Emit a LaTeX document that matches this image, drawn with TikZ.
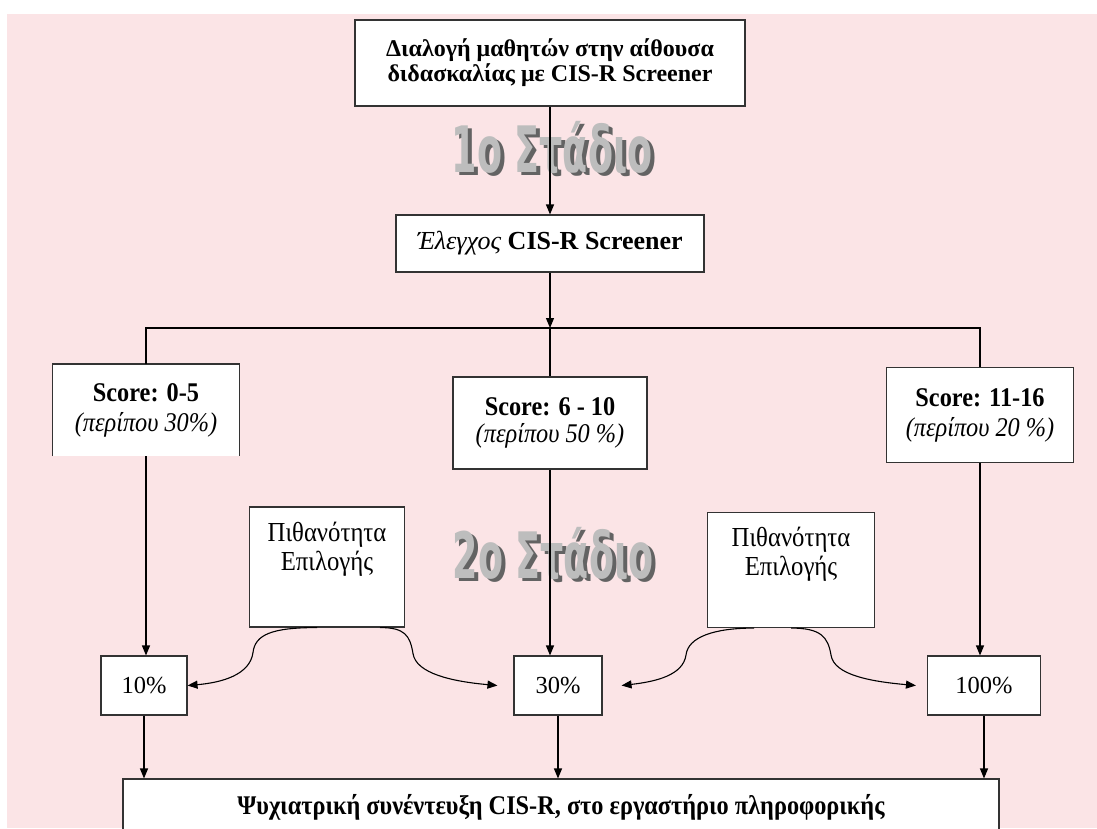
\documentclass[tikz,border=0pt]{standalone}
\usepackage{fontspec}
\setmainfont{Liberation Serif}
\newfontfamily\condfont{Liberation Serif}[FakeStretch=0.9]
\newfontfamily\artfont{DejaVu Sans}
\definecolor{bgpink}{HTML}{FBE4E6}
\definecolor{boxline}{HTML}{333333}
\definecolor{artgray}{HTML}{BDBDBD}
\definecolor{artshadow}{HTML}{636363}
\usetikzlibrary{arrows.meta,positioning}
% word art title: shadow and face in one box
\newcommand{\stagetitle}[1]{%
  \rlap{\kern4pt\raisebox{-3pt}{\textcolor{artshadow}{\scalebox{0.57}[1]{#1}}}}%
  \textcolor{artgray}{\scalebox{0.57}[1]{#1}}}

\begin{document}
\begin{tikzpicture}[x=1pt,y=-1pt,
    flowbox/.style={draw=boxline, fill=white, line width=1.1pt,
        align=center, inner sep=0pt, font=\fontsize{24.5}{29}\selectfont},
    scorebox/.style={flowbox, font=\condfont\fontsize{27}{30}\selectfont},
    link/.style={draw=black, line width=1.1pt},
    arr/.style={link, -{Triangle[length=10pt,width=8pt]}},
    stagetext/.style={inner sep=0pt,
        font=\artfont\bfseries\fontsize{64}{64}\selectfont}]

  %% Page and background
  \useasboundingbox (0,0) rectangle (1097,828);
  \clip (0,0) rectangle (1097,828);
  \fill[bgpink] (7,14) rectangle (1097,828);

  %% Stage titles (word art)
  \node[stagetext] (stage1) at (552,149) {\stagetitle{1ο Στάδιο}};
  \node[stagetext] (stage2) at (553,555) {\stagetitle{2ο Στάδιο}};

  %% First stage
  \node[flowbox, minimum width=390, minimum height=86,
        font=\bfseries\fontsize{24}{25}\selectfont] (screen) at (550,63)
    {Διαλογή μαθητών στην αίθουσα\\διδασκαλίας με CIS-R Screener};

  \node[flowbox, minimum width=308, minimum height=57,
        font=\fontsize{26}{29}\selectfont] (check) at (550,243.5)
    {\textit{Έλεγχος} \textbf{CIS-R Screener}};

  \coordinate (split) at (550,328);

  %% Score groups
  \node[scorebox, draw=none, minimum width=186, minimum height=91] (low) at (146,410)
    {\textbf{Score: 0-5}\\\textit{(περίπου 30\%)}};
  \draw[boxline, line width=1.1pt] (low.south west) |- (low.north east)
    -- (low.south east);
  \node[scorebox, minimum width=194, minimum height=92] (mid) at (550,423)
    {\textbf{Score: 6 - 10}\\[-3pt]\textit{(περίπου 50 \%)}};
  \node[scorebox, minimum width=187, minimum height=95] (high) at (980,415)
    {\textbf{Score: 11-16}\\\textit{(περίπου 20 \%)}};

  %% Selection probability boxes
  \node[flowbox, minimum width=155, minimum height=120] (probL) at (327,567) {};
  \node[align=center, inner sep=0pt, font=\condfont\fontsize{27.5}{29}\selectfont,
        below=15pt of probL.north] {Πιθανότητα\\Επιλογής};
  \node[flowbox, minimum width=167, minimum height=115] (probR) at (791,570) {};
  \node[align=center, inner sep=0pt, font=\condfont\fontsize{27.5}{29}\selectfont,
        below=15pt of probR.north] {Πιθανότητα\\Επιλογής};

  %% Percentages
  \node[flowbox, minimum width=86, minimum height=59] (pc10) at (144,685.5) {10\%};
  \node[flowbox, minimum width=88, minimum height=59] (pc30) at (558,685.5) {30\%};
  \node[flowbox, minimum width=113, minimum height=59] (pc100) at (984,685.5) {100\%};

  %% Interview
  \node[flowbox, minimum width=876, minimum height=56,
        font=\condfont\bfseries\fontsize{27}{29}\selectfont] (interview) at (561,807)
    {Ψυχιατρική συνέντευξη CIS-R, στο εργαστήριο πληροφορικής};

  %% Arrows
  \draw[arr] (screen) -- (check);
  \draw[arr] (check) -- (split);
  \draw[link] (low.north) -- (low.north |- split) -- (high.north |- split)
    -- (high.north);
  \draw[link] (split) -- (mid.north);

  \draw[arr] (low.south) -- (low.south |- pc10.north);
  \draw[arr] (mid.south) -- (mid.south |- pc30.north);
  \draw[arr] (high.south) -- (high.south |- pc100.north);

  \draw[arr] ([xshift=-10pt]probL.south) .. controls +(-45,0) and +(2,-18)
    .. ++(-64,25) .. controls +(-3,22) and +(35,-3) .. (pc10.east);
  \draw[arr] ([xshift=53pt]probL.south) .. controls +(25,0) and +(-3,-18)
    .. ++(33,26) .. controls +(3,20) and +(-45,-4) .. ([xshift=-16pt]pc30.west);
  \draw[arr] ([xshift=-37pt]probR.south) .. controls +(-40,0) and +(2,-18)
    .. ++(-68,27) .. controls +(-3,20) and +(35,-4) .. ([xshift=19pt]pc30.east);
  \draw[arr] (probR.south) .. controls +(30,0) and +(-3,-18)
    .. ++(40,27) .. controls +(3,20) and +(-45,-4) .. ([xshift=-11pt]pc100.west);

  \draw[arr] (pc10.south) -- (pc10.south |- interview.north);
  \draw[arr] (pc30.south) -- (pc30.south |- interview.north);
  \draw[arr] (pc100.south) -- (pc100.south |- interview.north);

\end{tikzpicture}
\end{document}
